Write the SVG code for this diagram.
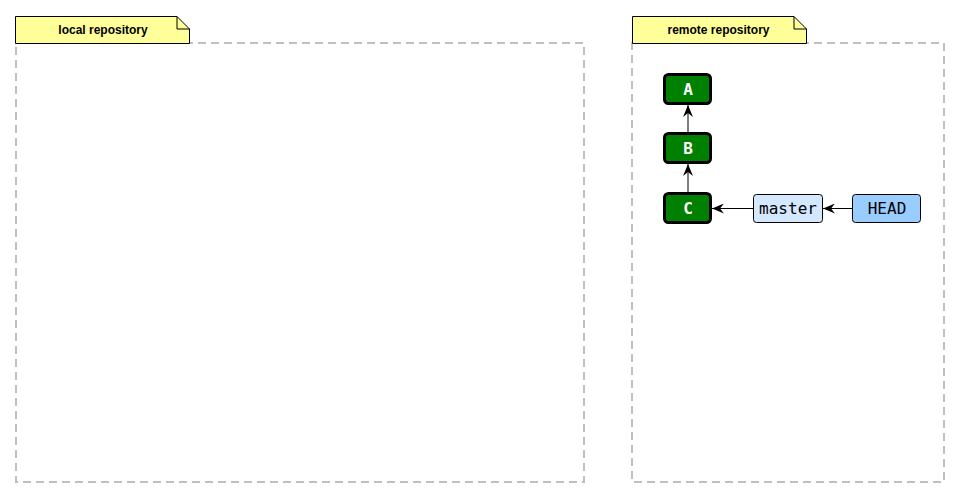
<svg xmlns="http://www.w3.org/2000/svg" width="959" height="497" viewBox="0 0 959 497">
<style>
.frame{fill:none;stroke:#c0c0c0;stroke-width:2;stroke-dasharray:8,5}
.tab{fill:#ffff99;stroke:#000;stroke-width:1}
.tabt{font-family:"Liberation Sans",Arial,sans-serif;font-weight:bold;font-size:12px;text-anchor:middle}
.commit rect{fill:#008000;stroke:#000;stroke-width:3}
.commit text{fill:#fff;font-family:"DejaVu Sans Mono",monospace;font-weight:bold;font-size:16px;text-anchor:middle}
.ref text{fill:#000;font-family:"DejaVu Sans Mono",monospace;font-size:16px;text-anchor:middle}
.conn line{stroke:#000;stroke-width:1}
</style>
<defs>
<marker id="ah" viewBox="0 0 12 10" refX="12" refY="5" markerWidth="12" markerHeight="10" markerUnits="userSpaceOnUse" orient="auto">
<path d="M0,0 L12,5 L0,10 L4,5 Z" fill="#000"/>
</marker>
</defs>
<g id="local">
<rect class="frame" x="16" y="43" width="568" height="439"/>
<path class="tab" d="M15.5,16.5 H177 L189.5,29 V43.5 H15.5 Z"/>
<path d="M177,16.5 V29 H189.5" fill="none" stroke="#000" stroke-width="1"/>
<text class="tabt" x="103" y="34">local repository</text>
</g>
<g id="remote">
<rect class="frame" x="632" y="43" width="312" height="439"/>
<path class="tab" d="M632.5,16.5 H794 L806.5,29 V43.5 H632.5 Z"/>
<path d="M794,16.5 V29 H806.5" fill="none" stroke="#000" stroke-width="1"/>
<text class="tabt" x="718.5" y="34">remote repository</text>
</g>
<g id="A" class="commit"><rect x="664.5" y="74.5" width="46" height="29" rx="4"/><text x="688" y="95">A</text></g>
<g id="B" class="commit"><rect x="664.5" y="133.5" width="46" height="29" rx="4"/><text x="688" y="154">B</text></g>
<g id="C" class="commit"><rect x="664.5" y="193.5" width="46" height="29" rx="4"/><text x="688" y="214">C</text></g>
<g id="master" class="ref"><rect x="753.5" y="194.5" width="69" height="28" rx="3" fill="#d4e8ff" stroke="#000"/><text x="788" y="214">master</text></g>
<g id="HEAD" class="ref"><rect x="852.5" y="194.5" width="68" height="28" rx="3" fill="#99ccff" stroke="#000"/><text x="887" y="214">HEAD</text></g>
<g id="connectors" class="conn">
<line x1="688" y1="132" x2="688" y2="105" marker-end="url(#ah)"/>
<line x1="688" y1="192" x2="688" y2="164" marker-end="url(#ah)"/>
<line x1="753" y1="208.5" x2="712" y2="208.5" marker-end="url(#ah)"/>
<line x1="852" y1="208.5" x2="823" y2="208.5" marker-end="url(#ah)"/>
</g>
</svg>
